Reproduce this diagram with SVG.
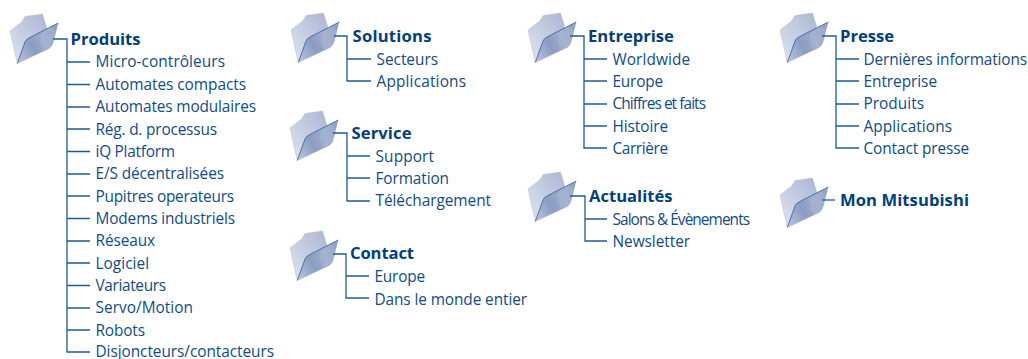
<svg xmlns="http://www.w3.org/2000/svg" width="1028" height="359" viewBox="0 0 1028 359">
<style>
text{font-family:"Open Sans","Noto Sans","Liberation Sans",sans-serif;fill:#0f4c8a}
.h{font-size:16.6px;font-weight:700;fill:#004080}
.t{font-size:15.4px;letter-spacing:-.03px}
.c path{fill:none;stroke:#1f5c96;stroke-width:1.3}
</style>
<defs>
<linearGradient id="gb" x1="0.9" y1="0" x2="0.1" y2="0.8"><stop offset="0" stop-color="#abb6d3"/><stop offset="1" stop-color="#d8deeb"/></linearGradient>
<linearGradient id="gf" x1="0" y1="1" x2="1" y2="0.4"><stop offset="0" stop-color="#bcc6dd"/><stop offset="0.45" stop-color="#8b9cc4"/><stop offset="0.75" stop-color="#9dabcc"/><stop offset="1" stop-color="#92a1c6"/></linearGradient>
<g id="folder">
<path d="M10 31 L21.700 22 L25 16.500 L42.500 14 L46.500 27 L50 48 L17.300 63.500 Z" fill="url(#gb)" stroke="#b3bdd6" stroke-width=".5"/>
<path d="M17.300 63.500 L25 42 Q26 39.500 29 38 L58.300 23 L53.500 42 Q52.500 46.500 49 48.500 Z" fill="url(#gf)" stroke="none"/>
<path d="M43 31 Q36 40 44 52 L49 48.500 Q52.500 46.500 53.500 42 L56 32 L51 27 Z" fill="#b5c0da" opacity=".35"/>
<path d="M17.300 63.500 L25 42 Q26 39.500 29 38 L58.300 23" fill="none" stroke="#2b5f98" stroke-width=".8"/>
</g>
</defs>
<g id="node-produits"><use href="#folder"/><text class="h" x="70.500" y="44.500" textLength="70">Produits</text>
<text class="t" x="95.500" y="67" textLength="129.500">Micro-contrôleurs</text><text class="t" x="95.500" y="89.500" textLength="150.500">Automates compacts</text><text class="t" x="95.500" y="112" textLength="160.500">Automates modulaires</text><text class="t" x="95.500" y="134.500" textLength="121.500">Rég. d. processus</text><text class="t" x="95.500" y="156.500" textLength="79.500">iQ Platform</text><text class="t" x="95.500" y="179" textLength="128.500">E/S décentralisées</text><text class="t" x="95.500" y="201.500" textLength="138.500">Pupitres operateurs</text><text class="t" x="95.500" y="223.500" textLength="139.500">Modems industriels</text><text class="t" x="95.500" y="246" textLength="59.500">Réseaux</text><text class="t" x="95.500" y="268.500" textLength="53.500">Logiciel</text><text class="t" x="95.500" y="290.500" textLength="70.500">Variateurs</text><text class="t" x="95.500" y="313" textLength="97.500">Servo/Motion</text><text class="t" x="95.500" y="335.500" textLength="49.500">Robots</text><text class="t" x="95.500" y="357" textLength="178.500">Disjoncteurs/contacteurs</text></g>
<g id="node-solutions"><use href="#folder" x="281" y="-1"/><text class="h" x="352.500" y="41.500" textLength="79">Solutions</text><text class="t" x="376.500" y="64.500" textLength="61.500">Secteurs</text><text class="t" x="376.500" y="86.500" textLength="89.500">Applications</text></g>
<g id="node-service"><use href="#folder" x="280" y="97"/><text class="h" x="351.500" y="138.500" textLength="60">Service</text><text class="t" x="375.500" y="161.500" textLength="58.500">Support</text><text class="t" x="375.500" y="183.500" textLength="73.500">Formation</text><text class="t" x="375.500" y="206" textLength="115.500">Téléchargement</text></g>
<g id="node-contact"><use href="#folder" x="280" y="217"/><text class="h" x="350" y="259" textLength="64">Contact</text><text class="t" x="374.500" y="282" textLength="50.500">Europe</text><text class="t" x="374.500" y="304.500" textLength="152.500">Dans le monde entier</text></g>
<g id="node-entreprise"><use href="#folder" x="518" y="-1"/><text class="h" x="588" y="41.500">Entreprise</text><text class="t" x="612.500" y="64.500" textLength="77.500">Worldwide</text><text class="t" x="612.500" y="86.500" textLength="50.500">Europe</text><text class="t" x="612.500" y="109" textLength="93.500">Chiffres et faits</text><text class="t" x="612.500" y="131.500" textLength="55.500">Histoire</text><text class="t" x="612.500" y="153.500" textLength="55.500">Carrière</text></g>
<g id="node-actualites"><use href="#folder" x="518" y="158"/><text class="h" x="589" y="201.500">Actualités</text><text class="t" x="612.500" y="224.500" textLength="137.500">Salons &amp; Évènements</text><text class="t" x="612.500" y="246.500" textLength="77.500">Newsletter</text></g>
<g id="node-presse"><use href="#folder" x="770" y="-1"/><text class="h" x="840" y="41.500">Presse</text><text class="t" x="863.500" y="64.500" textLength="163.500">Dernières informations</text><text class="t" x="863.500" y="86.500" textLength="73.500">Entreprise</text><text class="t" x="863.500" y="109" textLength="60.500">Produits</text><text class="t" x="863.500" y="131.500" textLength="88.500">Applications</text><text class="t" x="863.500" y="153.500" textLength="105.500">Contact presse</text></g>
<g id="node-mon-mitsubishi"><use href="#folder" x="770" y="164"/><text class="h" x="840" y="205.500" textLength="129">Mon Mitsubishi</text></g>
<g id="connectors" class="c">
<path d="M53 39H67V352H90M67 62H90M67 84.500H90M67 107H90M67 129H90M67 151.500H90M67 174H90M67 196H90M67 218.500H90M67 241H90M67 263H90M67 285.500H90M67 308H90M67 330H90"/>
<path d="M334 36H347V81H371M347 59H371"/>
<path d="M333 133H347V201H370M347 156H370M347 178H370"/>
<path d="M333 254H346V298H369M346 276H369"/>
<path d="M570 36H584V148H607M584 59H607M584 81H607M584 104H607M584 126H607"/>
<path d="M570 196H585V241H607M585 219H607"/>
<path d="M822 36H836V148H859M836 59H859M836 81H859M836 104H859M836 126H859"/>
<path d="M822 200H835"/>
</g>
</svg>
